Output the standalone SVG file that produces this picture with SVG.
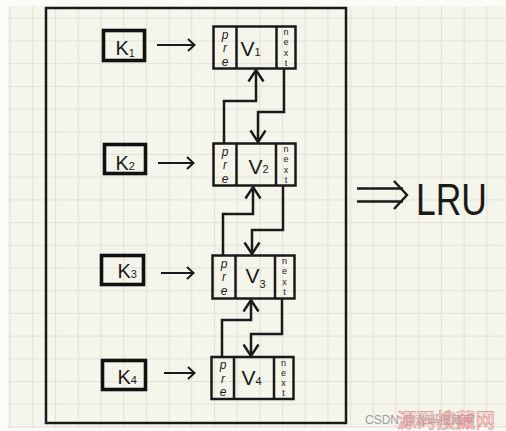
<svg xmlns="http://www.w3.org/2000/svg" width="506" height="431" viewBox="0 0 506 431">
  <defs>
    <pattern id="grid" x="9.6" y="17.8" width="22.7" height="22.7" patternUnits="userSpaceOnUse">
      <path d="M0.5 0 V22.7 M0 0.5 H22.7" stroke="#e2e1d6" stroke-width="1.2" fill="none"/>
    </pattern>
    <marker id="head" viewBox="0 0 16 18" refX="14.5" refY="9" markerWidth="16" markerHeight="18" markerUnits="userSpaceOnUse" orient="auto">
      <path d="M3 1.5 L14.5 9 L3 16.5" fill="none" stroke="#1a1a1a" stroke-width="2.4" stroke-linejoin="miter"/>
    </marker>
  </defs>
  <style>
    .ink { fill: none; stroke: #1a1a1a; stroke-width: 2.5; }
    .key { fill: none; stroke: #111; stroke-width: 3.6; }
    .t { font-family: "Liberation Sans", Arial, sans-serif; fill: #1a1a1a; }
    .v { font-size: 21px; }
    .sub { font-size: 11px; }
    .pre { font-size: 12px; text-anchor: middle; font-style: italic; }
    .nx { font-size: 9px; text-anchor: middle; }
    .k { font-size: 20px; }
    .ka { fill: none; stroke: #1a1a1a; stroke-width: 2; }
    .wire { fill: none; stroke: #1a1a1a; stroke-width: 2.5; stroke-linejoin: miter; }
  </style>

  <rect x="0" y="0" width="506" height="431" fill="#fbfbf8"/>
  <rect x="8" y="6" width="498" height="422" fill="#f6f5ec"/>
  <rect x="8" y="6" width="498" height="422" fill="url(#grid)"/>

  <rect id="container" x="46" y="8" width="300" height="415" class="ink"/>

  <g id="k1" transform="translate(103.5,30.5)">
    <rect x="0" y="0" width="41" height="30" class="key"/>
    <text class="t k" x="12" y="24">K<tspan class="sub" dy="2">1</tspan></text>
  </g>
  <g id="k2" transform="translate(104.5,144.5)">
    <rect x="0" y="0" width="41" height="29" class="key"/>
    <text class="t k" x="11" y="25">K<tspan class="sub">2</tspan></text>
  </g>
  <g id="k3" transform="translate(101.5,255.5)">
    <rect x="0" y="0" width="42" height="29" class="key"/>
    <text class="t k" x="16" y="22">K<tspan class="sub">3</tspan></text>
  </g>
  <g id="k4" transform="translate(102.5,360.5)">
    <rect x="0" y="0" width="43" height="29" class="key"/>
    <text class="t k" x="15" y="23">K<tspan class="sub">4</tspan></text>
  </g>

  <g id="v1" transform="translate(213.5,26.5)">
    <rect x="0" y="0" width="82" height="42" class="ink"/>
    <path d="M23 0 V42 M63 0 V42" class="ink"/>
    <text class="t pre" x="11.5" y="12">p</text><text class="t pre" x="11.5" y="25.5">r</text><text class="t pre" x="11.5" y="39">e</text>
    <text class="t nx" x="72.5" y="8.8">n</text><text class="t nx" x="72.5" y="18.9">e</text><text class="t nx" x="72.5" y="29">x</text><text class="t nx" x="72.5" y="39.1">t</text>
    <text class="t v" x="27" y="29">V<tspan class="sub">1</tspan></text>
  </g>
  <g id="v2" transform="translate(213.5,143.5)">
    <rect x="0" y="0" width="82" height="42" class="ink"/>
    <path d="M23 0 V42 M62.5 0 V42" class="ink"/>
    <text class="t pre" x="11.5" y="12">p</text><text class="t pre" x="11.5" y="25.5">r</text><text class="t pre" x="11.5" y="39">e</text>
    <text class="t nx" x="72.5" y="8.8">n</text><text class="t nx" x="72.5" y="18.9">e</text><text class="t nx" x="72.5" y="29">x</text><text class="t nx" x="72.5" y="39.1">t</text>
    <text class="t v" x="35" y="30">V<tspan class="sub" dy="-1">2</tspan></text>
  </g>
  <g id="v3" transform="translate(212.5,255.5)">
    <rect x="0" y="0" width="82" height="43" class="ink"/>
    <path d="M23 0 V43 M62.5 0 V43" class="ink"/>
    <text class="t pre" x="11.5" y="12">p</text><text class="t pre" x="11.5" y="25.5">r</text><text class="t pre" x="11.5" y="39">e</text>
    <text class="t nx" x="72" y="8.8">n</text><text class="t nx" x="72" y="18.9">e</text><text class="t nx" x="72" y="29">x</text><text class="t nx" x="72" y="39.1">t</text>
    <text class="t v" x="33" y="27">V<tspan class="sub" dy="5">3</tspan></text>
  </g>
  <g id="v4" transform="translate(211.5,357)">
    <rect x="0" y="0" width="82" height="42" class="ink"/>
    <path d="M22.5 0 V42 M62.5 0 V42" class="ink"/>
    <text class="t pre" x="11.5" y="12">p</text><text class="t pre" x="11.5" y="25.5">r</text><text class="t pre" x="11.5" y="39">e</text>
    <text class="t nx" x="72" y="8.8">n</text><text class="t nx" x="72" y="18.9">e</text><text class="t nx" x="72" y="29">x</text><text class="t nx" x="72" y="39.1">t</text>
    <text class="t v" x="30" y="28">V<tspan class="sub" font-size="16">4</tspan></text>
  </g>

  <g id="connectors">
    <path d="M157 45 H194 M188 39 L194.5 45 L188 51" class="ka"/>
    <path d="M158 163 H193 M187 157 L193.5 163 L187 169" class="ka"/>
    <path d="M161 273 H193 M187 267 L193.5 273 L187 279" class="ka"/>
    <path d="M164 373 H194 M188 367 L194.5 373 L188 379" class="ka"/>
    <path d="M224 143 V101 H256 V70" class="wire" marker-end="url(#head)"/>
    <path d="M284 69 V112 H258 V142" class="wire" marker-end="url(#head)"/>
    <path d="M223 255 V214 H253 V187" class="wire" marker-end="url(#head)"/>
    <path d="M283 186 V230 H252 V254" class="wire" marker-end="url(#head)"/>
    <path d="M222 357 V320 H251 V300" class="wire" marker-end="url(#head)"/>
    <path d="M282 299 V334 H251 V356" class="wire" marker-end="url(#head)"/>
  </g>

  <g id="lru">
    <path d="M357 188.5 H403 M357 201.5 H403 M394 181 L407 195 L394 209" fill="none" stroke="#1a1a1a" stroke-width="2.4"/>
    <text class="t" x="416" y="215" font-size="44" textLength="71" lengthAdjust="spacingAndGlyphs">LRU</text>
  </g>

  <g id="watermark">
    <text x="365" y="424" font-family="Liberation Sans, Arial, sans-serif" font-size="12" fill="#a0a0a0">CSDN @源码搜藏网</text>
    <text x="397" y="428" font-family="Liberation Sans, 'Noto Sans CJK SC', sans-serif" font-size="20" fill="none" stroke="#e39090" stroke-width="0.7" textLength="98" lengthAdjust="spacingAndGlyphs">源码搜藏网</text>
  </g>
</svg>
